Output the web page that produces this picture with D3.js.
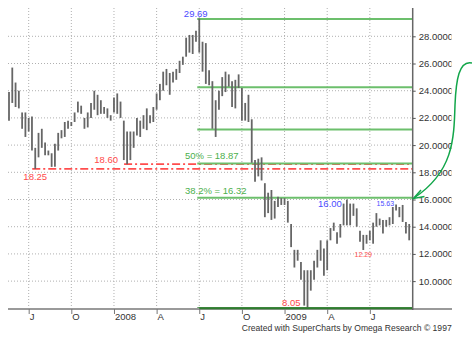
<!DOCTYPE html>
<meta charset="utf-8">
<script src="https://d3js.org/d3.v7.min.js"></script>
<style>
  body { margin: 0; background: #fff; }
  svg { font-family: "Liberation Sans", Arial, sans-serif; }
</style>
<div id="chart"></div>
<script>
// weekly bars, first one is the week ending Fri 25 May 2007
const firstWeek = "2007-05-25";

const highs = [23.9, 25.7, 24.6, 24.0, 22.4, 22.4, 22.0, 22.1, 19.8, 20.9,
  21.2, 20.2, 19.6, 19.4, 20.1, 20.9, 21.1, 21.7, 21.8, 21.7,
  22.4, 23.2, 22.9, 22.0, 22.4, 23.1, 24.0, 23.7, 23.3, 22.8,
  22.7, 22.2, 23.5, 23.8, 23.2, 21.8, 21.0, 21.0, 21.0, 22.0,
  21.8, 22.2, 22.7, 22.2, 22.8, 23.8, 24.5, 25.4, 25.6, 25.3,
  25.4, 25.6, 26.2, 26.5, 27.9, 28.1, 28.1, 28.4, 29.3, 27.6,
  27.5, 25.5, 24.7, 23.3, 24.0, 25.0, 25.4, 25.2, 24.7, 24.8,
  25.2, 24.2, 23.1, 23.7, 21.9, 18.9, 19.0, 19.1, 17.2, 16.5,
  16.7, 15.9, 16.2, 16.1, 16.1, 15.9, 14.2, 12.3, 12.3, 11.4,
  10.8, 10.8, 10.8, 11.5, 12.3, 13.0, 12.4, 13.0, 13.9, 14.3,
  13.6, 14.2, 15.7, 16.0, 15.7, 15.7, 15.35, 13.7, 13.4, 13.4,
  13.7, 14.3, 15.0, 14.6, 14.5, 14.5, 14.7, 15.45, 15.63, 15.45,
  15.6, 14.35, 14.2];

const lows = [21.8, 23.1, 22.8, 22.7, 21.2, 20.6, 21.0, 19.6, 18.25, 19.1,
  19.8, 19.25, 19.25, 18.4, 18.4, 19.6, 20.5, 20.6, 21.2, 21.4,
  21.7, 22.4, 22.3, 21.2, 21.3, 22.0, 22.6, 22.2, 22.3, 22.3,
  22.0, 21.8, 22.4, 22.3, 22.0, 18.9, 18.6, 18.9, 19.8, 20.7,
  20.6, 21.2, 21.1, 21.6, 21.7, 22.6, 23.3, 24.0, 24.4, 23.7,
  24.6, 24.8, 25.3, 25.9, 26.5, 26.8, 26.7, 27.6, 26.8, 25.4,
  24.5, 24.4, 21.2, 20.6, 22.6, 23.6, 23.9, 24.3, 22.8, 22.7,
  24.2, 21.8, 21.8, 21.7, 18.7, 17.3, 17.7, 17.4, 14.7, 15.0,
  14.5, 14.6, 15.45, 15.6, 15.6, 14.3, 12.5, 11.0, 11.5, 10.1,
  8.2, 8.05, 9.3, 10.1, 11.0, 11.5, 10.4, 10.8, 13.0, 13.7,
  12.75, 13.2, 14.1, 14.1, 14.1, 14.8, 14.0, 12.9, 12.29, 12.75,
  13.0, 12.75, 14.0, 14.1, 13.5, 14.0, 14.1, 14.2, 15.2, 14.7,
  14.35, 13.5, 13.0];

const quarterTicks = ["2007-07-06", "2007-10-05", "2008-01-04", "2008-04-04", "2008-07-04",
  "2008-10-03", "2009-01-02", "2009-04-03", "2009-07-03"];
const quarterLabels = ["J", "O", "2008", "A", "J", "O", "2009", "A", "J"];

const priceTicks = [10, 12, 14, 16, 18, 20, 22, 24, 26, 28];

// fibonacci lines as they sit on the picture (peak week onwards)
const fibLines = [29.28, 24.26, 21.15, 18.64, 16.13, 8.0];
// support lines (red dash-dot): value and week index they start from
const supportValues = [18.25, 18.60];
const supportStart = [8, 36];

const W = 472, H = 339;
const plotL = 8, plotR = 412.7, plotT = 8, plotB = 309;

const parse = d3.timeParse("%Y-%m-%d");
const dates = d3.timeFriday.range(parse(firstWeek), d3.timeDay.offset(parse(firstWeek), 7 * highs.length));
const bars = dates.map((d, i) => ({date: d, hi: highs[i], lo: lows[i]}));

const x = d3.scaleTime()
  .domain([dates[0], dates[dates.length - 1]])
  .range([9, 409.2]);
const y = d3.scaleLinear()
  .domain([7.95, 28])
  .range([plotB, 36.3]);

const svg = d3.select("#chart").append("svg")
  .attr("width", W).attr("height", H);

svg.append("defs").append("clipPath").attr("id", "labclip")
  .append("rect").attr("x", 0).attr("y", 0).attr("width", 451.5).attr("height", H);

// grid
svg.append("g").selectAll("line").data(priceTicks).join("line")
  .attr("x1", plotL).attr("x2", plotR)
  .attr("y1", d => y(d)).attr("y2", d => y(d))
  .attr("stroke", "#b0b0b0").attr("stroke-dasharray", "1,2");
svg.append("g").selectAll("line").data(quarterTicks).join("line")
  .attr("x1", d => x(parse(d))).attr("x2", d => x(parse(d)))
  .attr("y1", plotT).attr("y2", plotB)
  .attr("stroke", "#b0b0b0").attr("stroke-dasharray", "1,2");

// support lines
supportValues.forEach((v, k) => {
  svg.append("line")
    .attr("x1", x(dates[supportStart[k]]) - 3).attr("x2", plotR)
    .attr("y1", y(v)).attr("y2", y(v))
    .attr("stroke", "#ff4d4d").attr("stroke-width", 1.6)
    .attr("stroke-dasharray", "8,3,2,3");
});

// fib lines from the peak
const peakIdx = d3.maxIndex(highs);
svg.append("g").selectAll("line").data(fibLines).join("line")
  .attr("x1", x(dates[peakIdx]) - 2).attr("x2", plotR)
  .attr("y1", d => y(d)).attr("y2", d => y(d))
  .attr("stroke", (d, i) => i === fibLines.length - 1 ? "#2f7d2f" : "#6cbf6c")
  .attr("stroke-width", 2);

// price bars
svg.append("g").selectAll("line").data(bars).join("line")
  .attr("x1", d => x(d.date)).attr("x2", d => x(d.date))
  .attr("y1", d => y(d.hi)).attr("y2", d => y(d.lo))
  .attr("stroke", "#666").attr("stroke-width", 1.8);

// axes frame
svg.append("line").attr("x1", plotL).attr("x2", 452).attr("y1", plotB).attr("y2", plotB)
  .attr("stroke", "#9a9a9a").attr("stroke-width", 2);
svg.append("line").attr("x1", x(dates[peakIdx])).attr("x2", plotR)
  .attr("y1", y(fibLines[5])).attr("y2", y(fibLines[5]))
  .attr("stroke", "#2f7d2f").attr("stroke-width", 2);
svg.append("line").attr("x1", plotR).attr("x2", plotR).attr("y1", plotT).attr("y2", plotB + 1)
  .attr("stroke", "#666").attr("stroke-width", 1.5);

// x axis
const xAxis = svg.append("g")
  .attr("transform", `translate(0,${plotB})`)
  .call(d3.axisBottom(x).tickValues(quarterTicks.map(parse))
    .tickFormat((d, i) => quarterLabels[i]).tickSize(5));
xAxis.select(".domain").remove();
xAxis.selectAll("line").attr("stroke", "#777");
xAxis.selectAll("text").attr("text-anchor", "start").attr("x", 0.5).attr("y", 4).attr("dy", "0.71em")
  .style("font-size", "9.5px").attr("fill", "#333").style("font-family", "Liberation Sans, Arial");

// y axis on the right, labels clipped like the original
const yAxis = svg.append("g").attr("clip-path", "url(#labclip)")
  .append("g")
  .attr("transform", `translate(${plotR},0)`)
  .call(d3.axisRight(y).tickValues(priceTicks).tickFormat(d => d.toFixed(5)).tickSize(3).tickPadding(3));
yAxis.select(".domain").remove();
yAxis.selectAll("line").attr("stroke", "#555");
yAxis.selectAll("text").style("font-size", "9.5px").attr("fill", "#333")
  .style("font-family", "Liberation Sans, Arial");

// annotations
function label(txt, px, py, color, size, anchor) {
  svg.append("text").attr("x", px).attr("y", py)
    .attr("fill", color).attr("text-anchor", anchor || "start")
    .style("font-size", size + "px").text(txt);
}
const blue = "#4b4bff", red = "#ff4a4a", green = "#4caf4c";
label("29.69", x(dates[peakIdx]) - 3.5, y(highs[peakIdx]) - 2, blue, 9.5, "middle");
label("18.60", x(dates[supportStart[1]]) - 9, y(supportValues[1]) - 1, red, 9.5, "end");
label("18.25", x(dates[supportStart[0]]), y(supportValues[0]) + 11.5, red, 9.5, "middle");
label("50% = 18.87", 185, y(fibLines[3]) - 4.5, green, 9.5);
label("38.2% = 16.32", 185, y(fibLines[4]) - 3.5, green, 9.5);
label("16.00", x(dates[103]) - 5, y(highs[103]) + 7.2, blue, 9.5, "end");
label("15.63", x(dates[118]) - 2, y(highs[118]) + 1.5, blue, 7, "end");
label("12.29", x(dates[108]), y(lows[108]) + 6.7, red, 7, "middle");
label("8.05", x(dates[91]) - 7, y(lows[91]) - 1.5, red, 9.5, "end");

svg.append("text").attr("x", 241.7).attr("y", 330.5)
  .attr("fill", "#333").style("font-size", "9.3px")
  .attr("textLength", 210).attr("lengthAdjust", "spacingAndGlyphs")
  .text("Created with SuperCharts by Omega Research \u00a9 1997");

// green arrow pointing at the 38.2% line
svg.append("path")
  .attr("d", "M472,63 C459,60 456,80 455,105 C454,140 453,172 414,198")
  .attr("fill", "none").attr("stroke", "#12a64a").attr("stroke-width", 1.5);
svg.append("path")
  .attr("d", "M421,190 L413.5,198.5 L424.5,196.5")
  .attr("fill", "none").attr("stroke", "#12a64a").attr("stroke-width", 1.5);
</script>
